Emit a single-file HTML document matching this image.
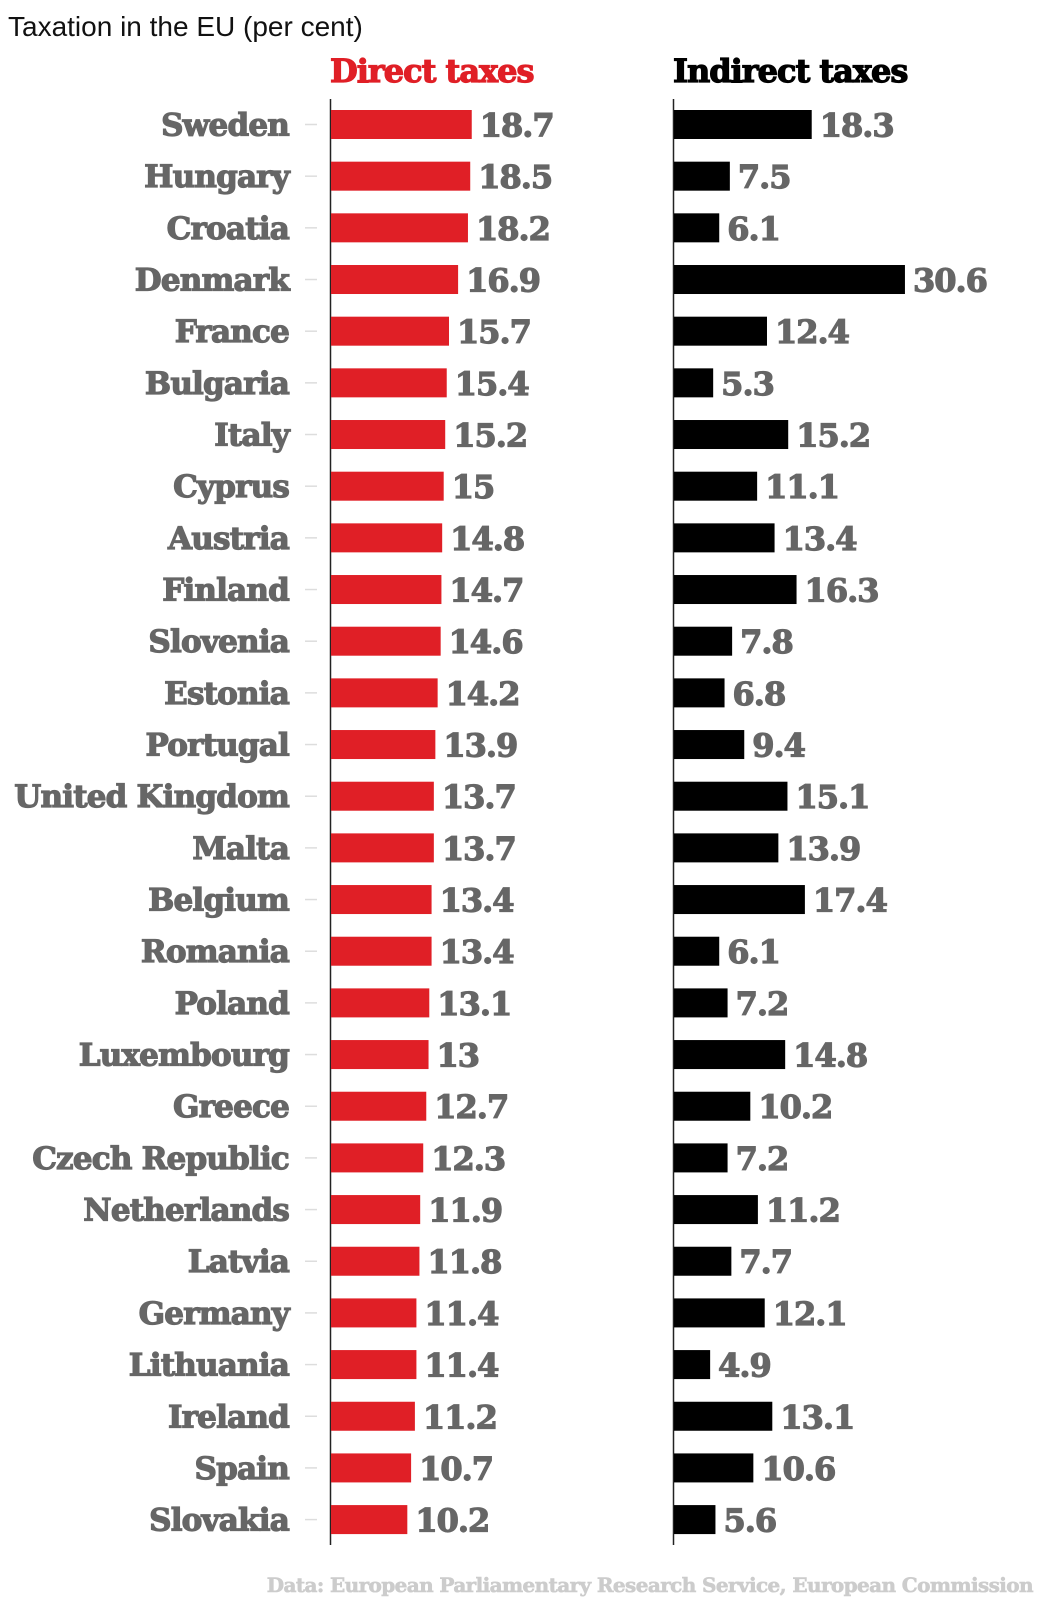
<!DOCTYPE html>
<html><head><meta charset="utf-8"><style>
html,body{margin:0;padding:0;background:#fff;}
svg{display:block;}
.n{font-family:"DejaVu Serif","Liberation Serif",serif;font-weight:bold;fill:#666;stroke:#666;stroke-width:1.2;font-size:31px;text-anchor:end;letter-spacing:-0.8px}
.v{font-family:"DejaVu Serif","Liberation Serif",serif;font-weight:bold;fill:#666;stroke:#666;stroke-width:1.2;font-size:32px;letter-spacing:-1px}
</style></head><body>
<svg id="s" width="1043" height="1600" xmlns="http://www.w3.org/2000/svg">
<text x="8" y="36" font-family="Liberation Sans, sans-serif" font-size="28" fill="#111">Taxation in the EU (per cent)</text>
<text x="330" y="82" font-family="DejaVu Serif, serif" font-weight="bold" font-size="32" fill="#e01f26" stroke="#e01f26" stroke-width="1.2" letter-spacing="-1">Direct taxes</text>
<text x="673" y="82" font-family="DejaVu Serif, serif" font-weight="bold" font-size="32" fill="#000" stroke="#000" stroke-width="1.2" letter-spacing="-1">Indirect taxes</text>
<line x1="330.5" y1="99" x2="330.5" y2="1545" stroke="#222" stroke-width="1.5"/>
<line x1="673.5" y1="99" x2="673.5" y2="1545" stroke="#222" stroke-width="1.5"/>
<g id="rows"></g>
<text x="1033" y="1592" font-family="DejaVu Serif, serif" font-weight="bold" font-size="20" fill="#ccc" stroke="#ccc" stroke-width="0.6" text-anchor="end" letter-spacing="-0.6">Data: European Parliamentary Research Service, European Commission</text>
</svg>
<script>
var d=[["Sweden",18.7,18.3],["Hungary",18.5,7.5],["Croatia",18.2,6.1],["Denmark",16.9,30.6],["France",15.7,12.4],["Bulgaria",15.4,5.3],["Italy",15.2,15.2],["Cyprus",15,11.1],["Austria",14.8,13.4],["Finland",14.7,16.3],["Slovenia",14.6,7.8],["Estonia",14.2,6.8],["Portugal",13.9,9.4],["United Kingdom",13.7,15.1],["Malta",13.7,13.9],["Belgium",13.4,17.4],["Romania",13.4,6.1],["Poland",13.1,7.2],["Luxembourg",13,14.8],["Greece",12.7,10.2],["Czech Republic",12.3,7.2],["Netherlands",11.9,11.2],["Latvia",11.8,7.7],["Germany",11.4,12.1],["Lithuania",11.4,4.9],["Ireland",11.2,13.1],["Spain",10.7,10.6],["Slovakia",10.2,5.6]];
var h="",k=7.58;
d.forEach(function(r,i){var t=110+i*51.67,c=t+14.5,b=c+11;
var w1=r[1]*k,w2=r[2]*k;
h+='<text class="n" x="289" y="'+b+'">'+r[0]+'</text>';
h+='<line x1="305" x2="317" y1="'+c+'" y2="'+c+'" stroke="#ddd" stroke-width="1.5"/>';
h+='<rect x="331" y="'+t+'" width="'+(w1-1)+'" height="29" fill="#e01f26"/>';
h+='<text class="v" x="'+(330+w1+8)+'" y="'+(c+12)+'">'+r[1]+'</text>';
h+='<rect x="674" y="'+t+'" width="'+(w2-1)+'" height="29" fill="#000"/>';
h+='<text class="v" x="'+(673+w2+8)+'" y="'+(c+12)+'">'+r[2]+'</text>';});
document.getElementById("rows").innerHTML=h;
</script>
</body></html>
